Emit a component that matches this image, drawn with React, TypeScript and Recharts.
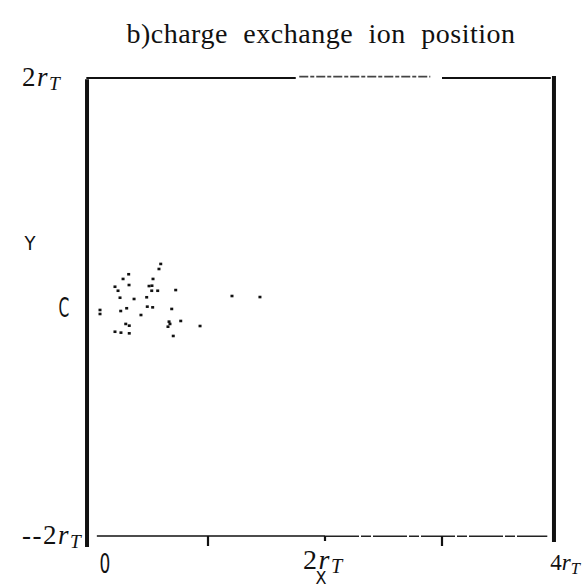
import { ScatterChart, Scatter, XAxis, YAxis, ReferenceLine } from "recharts";

// charge exchange ion positions, in units of r_T
const ionX = [
  0.596, 0.581, 0.322, 0.274, 0.53, 0.205, 0.325, 0.496, 0.521, 0.231, 0.519, 0.57, 0.724,
  0.248, 0.368, 0.476, 1.205, 1.444, 0.077, 0.077, 0.254, 0.305, 0.481, 0.527, 0.69, 0.427,
  0.297, 0.327, 0.667, 0.675, 0.658, 0.767, 0.932, 0.205, 0.256, 0.327, 0.703,
];
const ionY = [
  0.376, 0.332, 0.286, 0.245, 0.245, 0.177, 0.192, 0.183, 0.186, 0.142, 0.142, 0.142, 0.148,
  0.081, 0.07, 0.085, 0.096, 0.087, -0.026, -0.061, -0.035, -0.011, 0.003, -0.003, -0.017, -0.07,
  -0.148, -0.163, -0.128, -0.148, -0.172, -0.122, -0.166, -0.216, -0.224, -0.23, -0.253,
];

const xTicks = [0, 1, 2, 3, 4];
const xTickLabels = ["0", "", "2r_T", "", "4r_T"];
const yTicks = [-2, 0, 2];
const yTickLabels = ["--2r_T", "C", "2r_T"];

const points = ionX.map((x, i) => ({ x, y: ionY[i] }));

const SERIF = "'Liberation Serif', 'DejaVu Serif', serif";
const SANS = "'DejaVu Sans', sans-serif";
const INK = "#111";

// "2r_T" -> 2 + italic r + subscript T; plain labels are squeezed narrow
function RLabel({ text, x, y, anchor, size, spacing = 1.5 }: { text: string; x: number; y: number; anchor: string; size: number; spacing?: number }) {
  if (!text.includes("r_T")) {
    return (
      <text x={x} y={y} textAnchor={anchor} fontFamily={SANS} fontSize={size} fill={INK}
        textLength={size * 0.4} lengthAdjust="spacingAndGlyphs">
        {text}
      </text>
    );
  }
  const head = text.replace("r_T", "");
  return (
    <text x={x} y={y} textAnchor={anchor} fontFamily={SERIF} fontSize={size} fill={INK} letterSpacing={spacing}>
      {head}
      <tspan fontStyle="italic">r</tspan>
      <tspan fontStyle="italic" fontSize={size * 0.72} dy={4}>T</tspan>
    </text>
  );
}

function renderXTick(props: any) {
  const { x, y, payload } = props;
  const i = xTicks.indexOf(payload.value);
  const label = xTickLabels[i];
  const len = payload.value === 2 ? 5 : 10;
  return (
    <g key={`xt-${payload.value}`}>
      {payload.value > 0 && payload.value < 4 && (
        <line x1={x} x2={x} y1={y} y2={y + len} stroke={INK} strokeWidth={2.2} />
      )}
      {i === 0 && <RLabel text={label} x={x + 14} y={y + 37} anchor="middle" size={27} />}
      {i === 2 && <RLabel text={label} x={x - 22} y={y + 33} anchor="start" size={28} />}
      {i === 4 && <RLabel text={label} x={x + 21} y={y + 34} anchor="end" size={23} spacing={0} />}
    </g>
  );
}

function renderYTick(props: any) {
  const { x, y, payload } = props;
  const i = yTicks.indexOf(payload.value);
  const label = yTickLabels[i];
  if (label === "C") {
    return (
      <g key="yt-0">
        <RLabel text={label} x={x - 27} y={y + 10} anchor="middle" size={27} />
      </g>
    );
  }
  return (
    <g key={`yt-${payload.value}`}>
      <RLabel text={label} x={x - 69} y={y + 8} anchor="start" size={27} />
    </g>
  );
}

const Dot = (props: any) => {
  const { cx, cy } = props;
  return <rect x={cx - 1.5} y={cy - 1.3} width={3} height={2.6} fill={INK} />;
};

export default function App() {
  return (
    <div style={{ position: "absolute", left: 0, top: 0, width: 582, height: 587, background: "#fff" }}>
      <ScatterChart width={582} height={587} margin={{ top: 78, right: 23, bottom: 50, left: 90 }}>
        <XAxis
          type="number"
          dataKey="x"
          domain={[0, 4]}
          ticks={xTicks}
          axisLine={false}
          tickLine={false}
          tickSize={0}
          tickMargin={0}
          height={1}
          tick={renderXTick}
          interval={0}
        />
        <YAxis
          type="number"
          dataKey="y"
          domain={[-2, 2]}
          ticks={yTicks}
          axisLine={false}
          tickLine={false}
          tickSize={0}
          tickMargin={0}
          width={1}
          tick={renderYTick}
          interval={0}
        />
        {/* frame: heavy sides, lighter top and bottom */}
        <ReferenceLine segment={[{ x: -0.034, y: 1.99 }, { x: -0.034, y: -2.096 }]} stroke={INK} strokeWidth={4} ifOverflow="visible" />
        <ReferenceLine segment={[{ x: 3.957, y: 2.017 }, { x: 3.957, y: -2.052 }]} stroke={INK} strokeWidth={4} ifOverflow="visible" />
        <ReferenceLine segment={[{ x: -0.04, y: 2 }, { x: 1.75, y: 2 }]} stroke={INK} strokeWidth={2.2} ifOverflow="visible" />
        <ReferenceLine segment={[{ x: 1.78, y: 2.012 }, { x: 2.9, y: 2.012 }]} stroke="#444" strokeWidth={1.6} strokeDasharray="9 2 4 2" ifOverflow="visible" />
        <ReferenceLine segment={[{ x: 3.0, y: 2 }, { x: 3.93, y: 2 }]} stroke={INK} strokeWidth={2.2} ifOverflow="visible" />
        <ReferenceLine segment={[{ x: 0.05, y: -2 }, { x: 2.0, y: -2 }]} stroke={INK} strokeWidth={1.5} ifOverflow="visible" />
        <ReferenceLine segment={[{ x: 2.0, y: -2.003 }, { x: 3.9, y: -2.003 }]} stroke="#222" strokeWidth={1.5} strokeDasharray="34 2 10 2" ifOverflow="visible" />
        <Scatter data={points} shape={<Dot />} isAnimationActive={false} />
      </ScatterChart>
      <svg width={582} height={587} style={{ position: "absolute", left: 0, top: 0, pointerEvents: "none" }}>
        <text x={321} y={43} textAnchor="middle" fontFamily={SERIF} fontSize={28} wordSpacing={8} letterSpacing={0.5} fill={INK}>
          b)charge exchange ion position
        </text>
        <text x={30} y={250} textAnchor="middle" fontFamily={SANS} fontSize={19} fill={INK}
          textLength={11} lengthAdjust="spacingAndGlyphs">
          Y
        </text>
        <text x={321} y={584} textAnchor="middle" fontFamily={SANS} fontSize={18} fill={INK}
          textLength={11} lengthAdjust="spacingAndGlyphs">
          X
        </text>
      </svg>
    </div>
  );
}
